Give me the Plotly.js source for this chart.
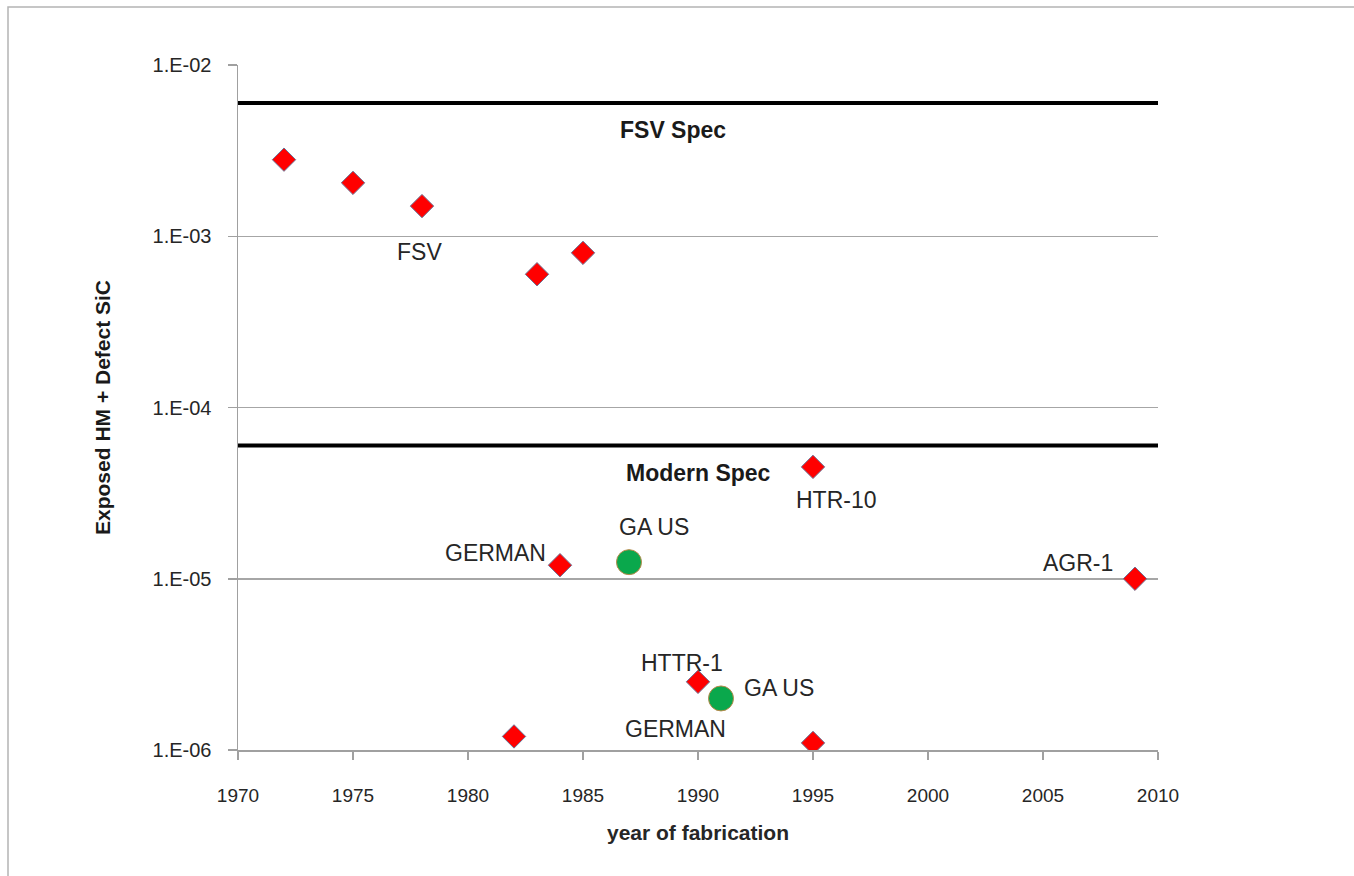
<!DOCTYPE html>
<html>
<head>
<meta charset="utf-8">
<script src="https://cdn.plot.ly/plotly-3.0.1.min.js"></script>
<style>html,body{margin:0;padding:0;background:#fff;}#chart{width:1354px;height:876px;}</style>
</head>
<body>
<div id="chart"></div>
<script>
// Red diamond samples
const redYears  = [1972, 1975, 1978, 1983, 1985, 1995, 1984, 2009, 1990, 1982, 1995];
const redValues = [2.8e-3, 2.05e-3, 1.5e-3, 6.0e-4, 8.0e-4, 4.5e-5, 1.2e-5, 1.0e-5, 2.5e-6, 1.2e-6, 1.1e-6];
// Green circle samples (GA US)
const greenYears  = [1987, 1991];
const greenValues = [1.25e-5, 2.0e-6];
// Specification lines
const specNames  = ["FSV Spec", "Modern Spec"];
const specValues = [6.0e-3, 6.0e-5];
const specYears  = [1970, 2010];
// Tick labels
const yTickVals  = [1e-6, 1e-5, 1e-4, 1e-3, 1e-2];
const yTickText  = ["1.E-06", "1.E-05", "1.E-04", "1.E-03", "1.E-02"];
const xTickVals  = [1970, 1975, 1980, 1985, 1990, 1995, 2000, 2005, 2010];
// Point labels
const labelTexts = ["FSV", "HTR-10", "GERMAN", "GA US", "AGR-1", "HTTR-1", "GA US", "GERMAN"];
const labelX     = [1977.9, 1996.0, 1981.2, 1988.1, 2006.5, 1989.3, 1993.5, 1989.0];
const labelY     = [-3.09, -4.54, -4.85, -4.70, -4.91, -5.49, -5.64, -5.88];
const specLabelX = [1988.9, 1990.0];
const specLabelY = [-2.38, -4.38];

const FONT = "Liberation Sans, Arial, sans-serif";

const traces = [];
specValues.forEach((v, i) => {
  traces.push({
    x: specYears, y: [v, v], mode: "lines", name: specNames[i],
    line: {color: "#000000", width: 4}, hoverinfo: "skip", showlegend: false
  });
});
traces.push({
  x: redYears, y: redValues, mode: "markers", name: "samples",
  marker: {symbol: "diamond", size: 18, color: "#ff0000", line: {color: "#6a7394", width: 1}},
  showlegend: false
});
traces.push({
  x: greenYears, y: greenValues, mode: "markers", name: "GA US",
  marker: {symbol: "circle", size: 25, color: "#0aa84c", line: {color: "#b88a4a", width: 1}},
  showlegend: false
});

const annotations = [];
labelTexts.forEach((t, i) => {
  annotations.push({
    x: labelX[i], y: labelY[i], xref: "x", yref: "y", text: t, showarrow: false,
    font: {family: FONT, size: 23, color: "#262626"}
  });
});
specNames.forEach((t, i) => {
  annotations.push({
    x: specLabelX[i], y: specLabelY[i], xref: "x", yref: "y", text: "<b>" + t + "</b>", showarrow: false,
    font: {family: FONT, size: 23, color: "#1a1a1a"}
  });
});

const layout = {
  width: 1354, height: 876,
  margin: {l: 238, r: 196, t: 65, b: 126, pad: 0},
  paper_bgcolor: "#ffffff", plot_bgcolor: "#ffffff",
  showlegend: false,
  font: {family: FONT, color: "#262626"},
  xaxis: {
    range: [1970, 2010], tickvals: xTickVals, ticks: "outside", ticklen: 8, tickwidth: 1.5,
    tickcolor: "#a0a0a0", showline: true, linecolor: "#a0a0a0", linewidth: 1.5,
    showgrid: false, zeroline: false, ticklabelstandoff: 20,
    tickfont: {family: "Liberation Sans Narrow, Liberation Sans, Arial, sans-serif", size: 19, color: "#262626"},
    title: {text: "<b>year of fabrication</b>", font: {family: FONT, size: 21, color: "#262626"}, standoff: 20}
  },
  yaxis: {
    type: "log", range: [-6, -2], tickvals: yTickVals, ticktext: yTickText,
    ticks: "outside", ticklen: 9, tickwidth: 1.5, tickcolor: "#a0a0a0",
    showline: true, linecolor: "#a0a0a0", linewidth: 1.5,
    showgrid: true, gridcolor: "#a6a6a6", gridwidth: 1.5, zeroline: false,
    ticklabelstandoff: 12,
    tickfont: {family: FONT, size: 20, color: "#262626"},
    title: {text: "<b>Exposed HM + Defect SiC</b>", font: {family: FONT, size: 21, color: "#1a1a1a"}, standoff: 36}
  },
  annotations: annotations,
  shapes: [{
    type: "rect", xref: "paper", yref: "paper",
    x0: -0.25, x1: 1.3, y0: -0.3, y1: 1.0847,
    line: {color: "#b4b4b4", width: 1.5}, fillcolor: "rgba(0,0,0,0)", layer: "below"
  }]
};

Plotly.newPlot("chart", traces, layout, {displayModeBar: false, staticPlot: true});
</script>
</body>
</html>
